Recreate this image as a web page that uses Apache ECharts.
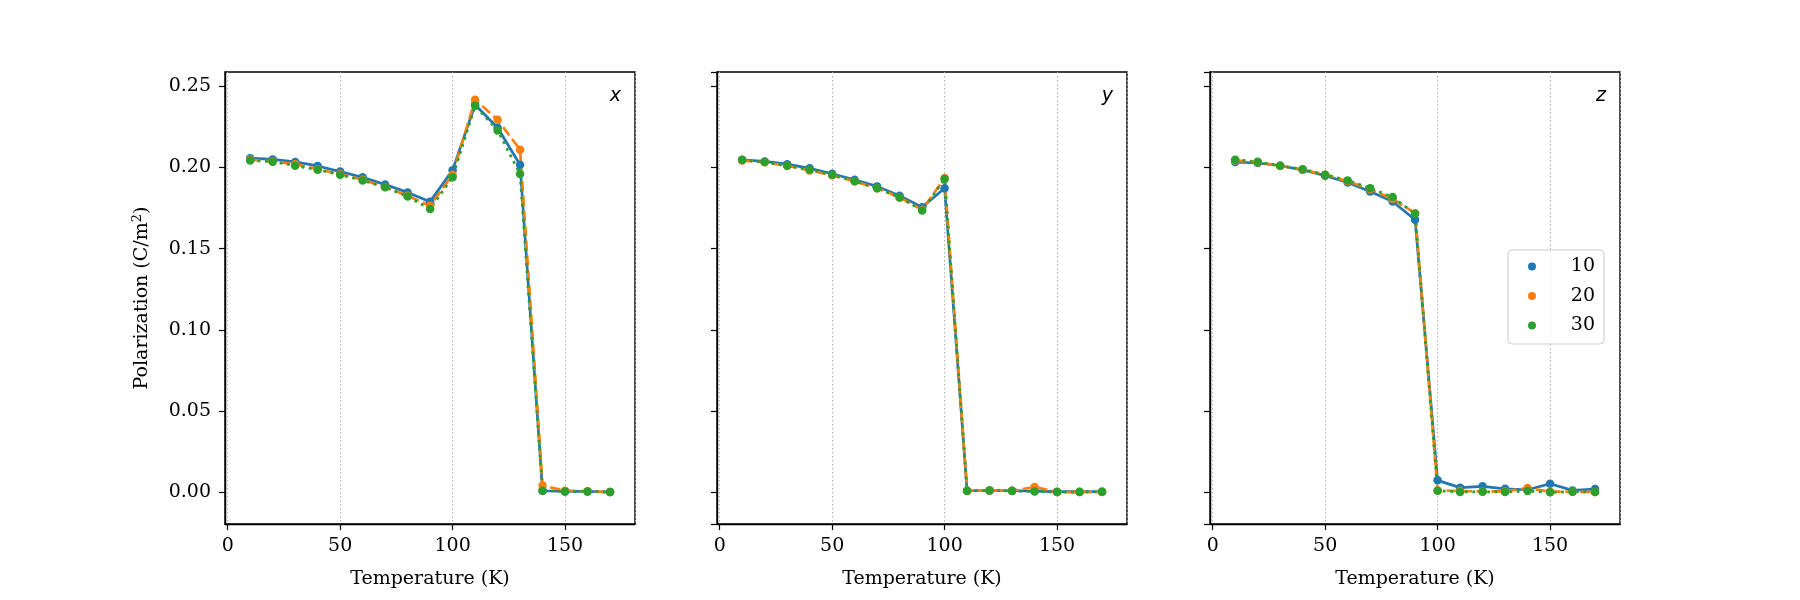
<!DOCTYPE html>
<html>
<head>
  <meta charset="utf-8">
  <title>Polarization vs Temperature</title>
  <script src="https://cdn.jsdelivr.net/npm/echarts@6.0.0/dist/echarts.min.js"></script>
  <style>
    html, body { margin: 0; padding: 0; background: #fff; }
    #chart { width: 1800px; height: 600px; }
  </style>
</head>
<body>
<div id="chart"></div>
<script>
// temperatures (K)
var temps = [10, 20, 30, 40, 50, 60, 70, 80, 90, 100, 110, 120, 130, 140, 150, 160, 170];

// x component
var xP10 = [0.2058, 0.2050, 0.2035, 0.2010, 0.1975, 0.1940, 0.1895, 0.1847, 0.1790, 0.1984, 0.2387, 0.2245, 0.2017, 0.0008, 0.0004, 0.0004, 0.0000];
var xP20 = [0.2048, 0.2038, 0.2021, 0.1990, 0.1960, 0.1925, 0.1880, 0.1826, 0.1765, 0.1956, 0.2418, 0.2295, 0.2110, 0.0041, 0.0008, 0.0005, 0.0000];
var xP30 = [0.2044, 0.2036, 0.2011, 0.1986, 0.1956, 0.1921, 0.1878, 0.1822, 0.1744, 0.1941, 0.2381, 0.2229, 0.1960, 0.0008, 0.0004, 0.0004, 0.0000];
// y component
var yP10 = [0.2048, 0.2038, 0.2021, 0.1995, 0.1962, 0.1925, 0.1884, 0.1826, 0.1756, 0.1873, 0.0008, 0.0010, 0.0008, 0.0006, 0.0002, 0.0002, 0.0002];
var yP20 = [0.2044, 0.2032, 0.2011, 0.1982, 0.1952, 0.1915, 0.1873, 0.1816, 0.1740, 0.1935, 0.0008, 0.0010, 0.0008, 0.0031, 0.0000, 0.0000, 0.0000];
var yP30 = [0.2046, 0.2034, 0.2011, 0.1986, 0.1956, 0.1915, 0.1873, 0.1816, 0.1736, 0.1929, 0.0006, 0.0010, 0.0006, 0.0004, 0.0000, 0.0000, 0.0002];
// z component
var zP10 = [0.2034, 0.2028, 0.2011, 0.1986, 0.1950, 0.1908, 0.1853, 0.1791, 0.1678, 0.0072, 0.0027, 0.0035, 0.0020, 0.0014, 0.0051, 0.0010, 0.0018];
var zP20 = [0.2044, 0.2032, 0.2011, 0.1986, 0.1956, 0.1915, 0.1867, 0.1806, 0.1719, 0.0010, 0.0006, 0.0004, 0.0004, 0.0025, 0.0002, 0.0002, 0.0000];
var zP30 = [0.2048, 0.2036, 0.2011, 0.1990, 0.1956, 0.1921, 0.1873, 0.1818, 0.1715, 0.0008, 0.0000, 0.0002, 0.0000, 0.0006, -0.0002, 0.0002, 0.0000];

var sizes = ["10", "20", "30"];
var panelNames = ["x", "y", "z"];
var panels = [[xP10, xP20, xP30], [yP10, yP20, yP30], [zP10, zP20, zP30]];

var colors = ["#1f77b4", "#ff7f0e", "#2ca02c"];
var dashes = ["solid", [10.4, 4.5], [2.8, 4.6]];
var serif = "DejaVu Serif";
var lefts = [225, 717, 1210];
var gridTop = 72, gridW = 410, gridH = 452;

function pairs(xs, ys) {
    return xs.map(function(t, i) { return [t, ys[i]]; });
}

var grids = [], xAxes = [], yAxes = [], series = [], graphics = [];
for (var p = 0; p < 3; p++) {
    grids.push({
        left: lefts[p], top: gridTop, width: gridW, height: gridH,
        show: true, borderColor: "#000", borderWidth: 1.4, backgroundColor: "transparent"
    });
    xAxes.push({
        type: "value", gridIndex: p, min: -1.2, max: 181.1, splitNumber: 4,
        name: "Temperature (K)", nameLocation: "middle", nameGap: 46,
        nameTextStyle: { fontFamily: serif, fontSize: 19, color: "#000" },
        axisLine: { show: true, onZero: false, lineStyle: { color: "#000", width: 1.4 } },
        axisTick: { show: true, length: 6, lineStyle: { color: "#000", width: 1.2 } },
        axisLabel: { fontFamily: serif, fontSize: 19, color: "#000", margin: 13,
                     showMinLabel: false, showMaxLabel: false },
        splitLine: { show: true, lineStyle: { color: "#b0b0b0", type: [1.5, 2.5], width: 1 } }
    });
    yAxes.push({
        type: "value", gridIndex: p, min: -0.0197, max: 0.2589, splitNumber: 5,
        name: p === 0 ? "{a|Polarization (C/m}{s|2}{a|)}" : "", nameLocation: "middle", nameGap: 72,
        nameTextStyle: {
            fontFamily: serif, fontSize: 19, color: "#000",
            rich: {
                a: { fontFamily: serif, fontSize: 19, color: "#000" },
                s: { fontFamily: serif, fontSize: 13, color: "#000", padding: [0, 0, 9, 0] }
            }
        },
        axisLine: { show: true, onZero: false, lineStyle: { color: "#000", width: 1.4 } },
        axisTick: { show: true, length: 6, lineStyle: { color: "#000", width: 1.2 } },
        axisLabel: { show: p === 0, fontFamily: serif, fontSize: 19, color: "#000", margin: 14,
                     showMinLabel: false, showMaxLabel: false,
                     formatter: function(v) { return v.toFixed(2); } },
        splitLine: { show: false }
    });
    for (var s = 0; s < 3; s++) {
        series.push({
            name: sizes[s], type: "line", xAxisIndex: p, yAxisIndex: p,
            data: pairs(temps, panels[p][s]),
            symbol: "circle", symbolSize: 8.5, showSymbol: true,
            lineStyle: { color: colors[s], width: 2.7, type: dashes[s] },
            itemStyle: { color: colors[s], borderWidth: 0 },
            emphasis: { disabled: true }
        });
    }
    graphics.push({
        type: "text", x: lefts[p] + gridW - 14, y: 96,
        style: { text: panelNames[p], font: "italic 19px DejaVu Sans", fill: "#000",
                 textAlign: "right", textVerticalAlign: "middle" }
    });
}

var myChart = echarts.init(document.getElementById("chart"));
myChart.setOption({
    animation: false,
    backgroundColor: "#fff",
    grid: grids,
    xAxis: xAxes,
    yAxis: yAxes,
    series: series,
    graphic: graphics,
    legend: {
        data: sizes,
        orient: "vertical",
        left: 1508, top: 250,
        padding: [7, 9, 9, 20],
        itemWidth: 18, itemHeight: 8, itemGap: 10.5,
        icon: "circle",
        backgroundColor: "rgba(255,255,255,0.8)",
        borderColor: "#cccccc", borderWidth: 1, borderRadius: 4,
        formatter: "{a|{name}}",
        textStyle: {
            rich: { a: { fontFamily: serif, fontSize: 19, color: "#000", width: 49, align: "right", lineHeight: 20 } }
        }
    }
});
</script>
</body>
</html>
